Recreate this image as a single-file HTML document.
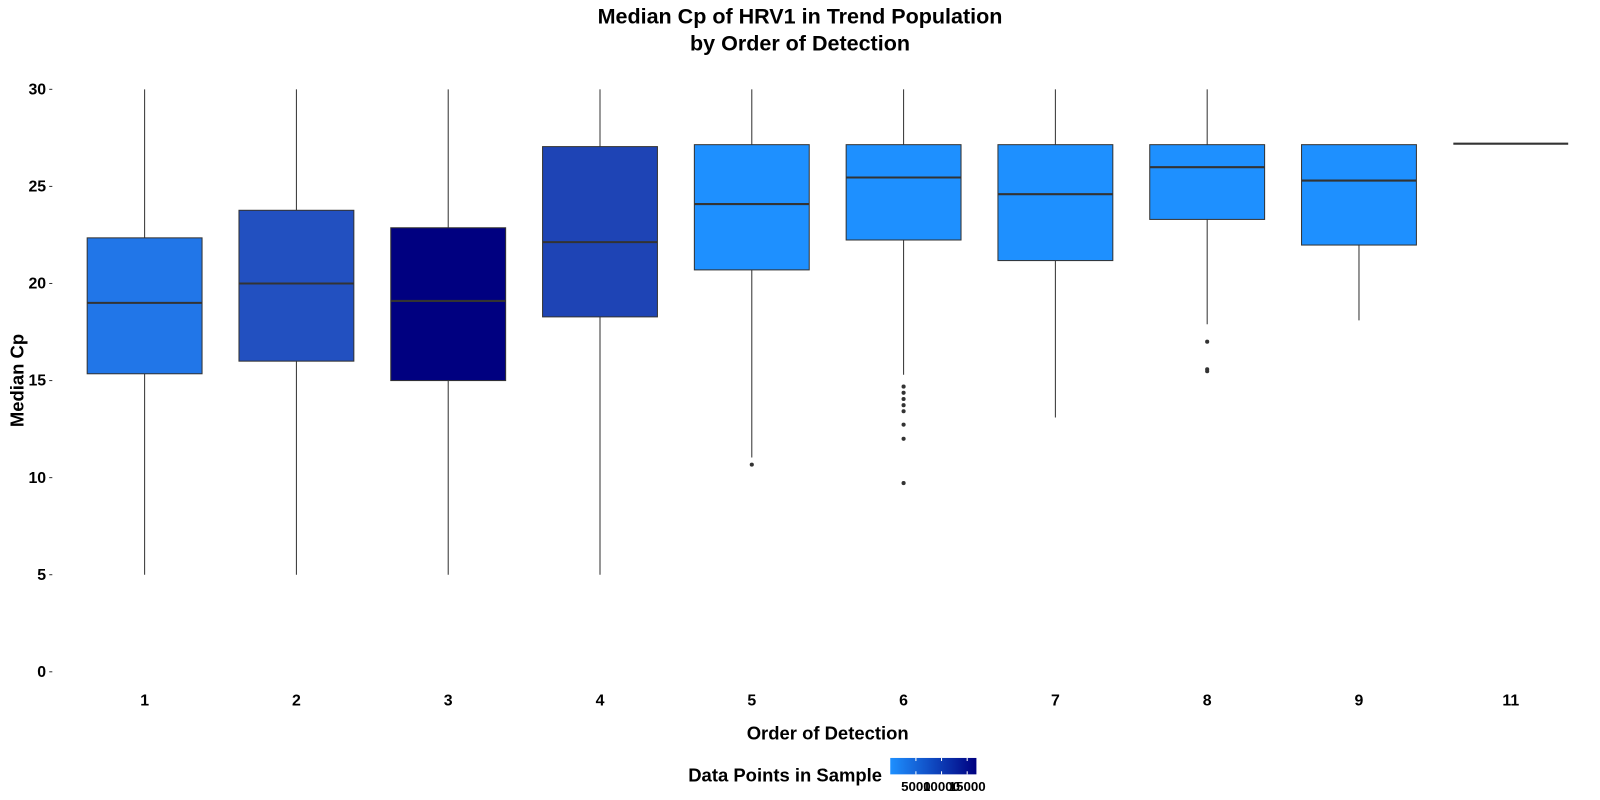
<!DOCTYPE html>
<html><head><meta charset="utf-8"><style>
html,body{margin:0;padding:0;background:#fff;}
svg{display:block;font-family:"Liberation Sans",Arial,sans-serif;font-weight:bold;}
</style></head><body>
<svg id="chart" width="1600" height="800" viewBox="0 0 1560 780" xmlns="http://www.w3.org/2000/svg">
<text x="780" y="23" text-anchor="middle" font-size="21">Median Cp of HRV1 in Trend Population</text>
<text x="780" y="49" text-anchor="middle" font-size="21">by Order of Detection</text>
<text transform="translate(23,371) rotate(-90)" text-anchor="middle" font-size="18">Median Cp</text>
<text x="807" y="721" text-anchor="middle" font-size="18">Order of Detection</text>
<g>
<defs><linearGradient id="lg"><stop offset="0" stop-color="#1e90ff"/><stop offset="1" stop-color="#000080"/></linearGradient></defs>
<text x="860" y="762" text-anchor="end" font-size="18">Data Points in Sample</text>
<rect x="868" y="739" width="84" height="16" fill="url(#lg)"/>
<g stroke="#fff" stroke-width="1"><line x1="893" y1="739" x2="893" y2="742"/><line x1="893" y1="752" x2="893" y2="755"/><line x1="918" y1="739" x2="918" y2="742"/><line x1="918" y1="752" x2="918" y2="755"/><line x1="943" y1="739" x2="943" y2="742"/><line x1="943" y1="752" x2="943" y2="755"/></g>
<text x="893" y="771" text-anchor="middle" font-size="13">5000</text>
<text x="918" y="771" text-anchor="middle" font-size="13">10000</text>
<text x="943" y="771" text-anchor="middle" font-size="13">15000</text>
</g>
<g id="plot"></g>
</svg>
<script>
const categories=["1","2","3","4","5","6","7","8","9","11"];
const q1=[15.35,16.0,15.0,18.28,20.7,22.24,21.18,23.3,21.98,27.2];
const medians=[19.0,20.0,19.1,22.13,24.09,25.46,24.6,25.99,25.3,27.2];
const q3=[22.35,23.77,22.87,27.05,27.15,27.15,27.15,27.15,27.15,27.2];
const whiskLow=[5,5,5,5,11.04,15.3,13.1,17.9,18.1,27.2];
const whiskHigh=[30,30,30,30,30,30,30,30,27.15,27.2];
const fills=["#2176e8","#2250c0","#000080","#1e44b5","#1e90ff","#1e90ff","#1e90ff","#1e90ff","#1e90ff","#1e90ff"];
const outliers=[[],[],[],[],[10.67],[14.69,14.37,14.05,13.73,13.42,12.73,12.0,9.72],[],[17.0,15.58,15.48],[],[]];
const yTicks=[0,5,10,15,20,25,30];
const NS="http://www.w3.org/2000/svg";
const plot=document.getElementById('plot');
const y=v=>655-v*18.93;
const x=i=>141+i*148;
const bw=112;
function mk(t,a){const e=document.createElementNS(NS,t);for(const k in a)e.setAttribute(k,a[k]);plot.appendChild(e);return e;}
yTicks.forEach(t=>{
 const tx=mk('text',{x:45,y:y(t)+5,'text-anchor':'end','font-size':15.5});tx.textContent=t;
 
 
 const l=mk('line',{x1:48,x2:51,y1:y(t),y2:y(t),stroke:'#333'});
 
 
});
categories.forEach((c,i)=>{
 const cx=x(i);
 const tx=mk('text',{x:cx,y:688,'text-anchor':'middle','font-size':15.5});tx.textContent=c;
 
 
 const w1=mk('line',{x1:cx,x2:cx,y1:y(whiskHigh[i]),y2:y(q3[i]),stroke:'#333','stroke-width':1});
 
 
 const w2=mk('line',{x1:cx,x2:cx,y1:y(q1[i]),y2:y(whiskLow[i]),stroke:'#333','stroke-width':1});
 
 
 const r=mk('rect',{x:cx-bw/2,y:y(q3[i]),width:bw,height:Math.max(0,y(q1[i])-y(q3[i])),fill:fills[i],stroke:'#333','stroke-width':1});
 
 
 const m=mk('line',{x1:cx-bw/2,x2:cx+bw/2,y1:y(medians[i]),y2:y(medians[i]),stroke:'#333','stroke-width':2});
 
 
 outliers[i].forEach((v,j)=>{
  const p=mk('circle',{cx:cx,cy:y(v),r:2,fill:'#333'});
  
  
 });
});
</script>
</body></html>
